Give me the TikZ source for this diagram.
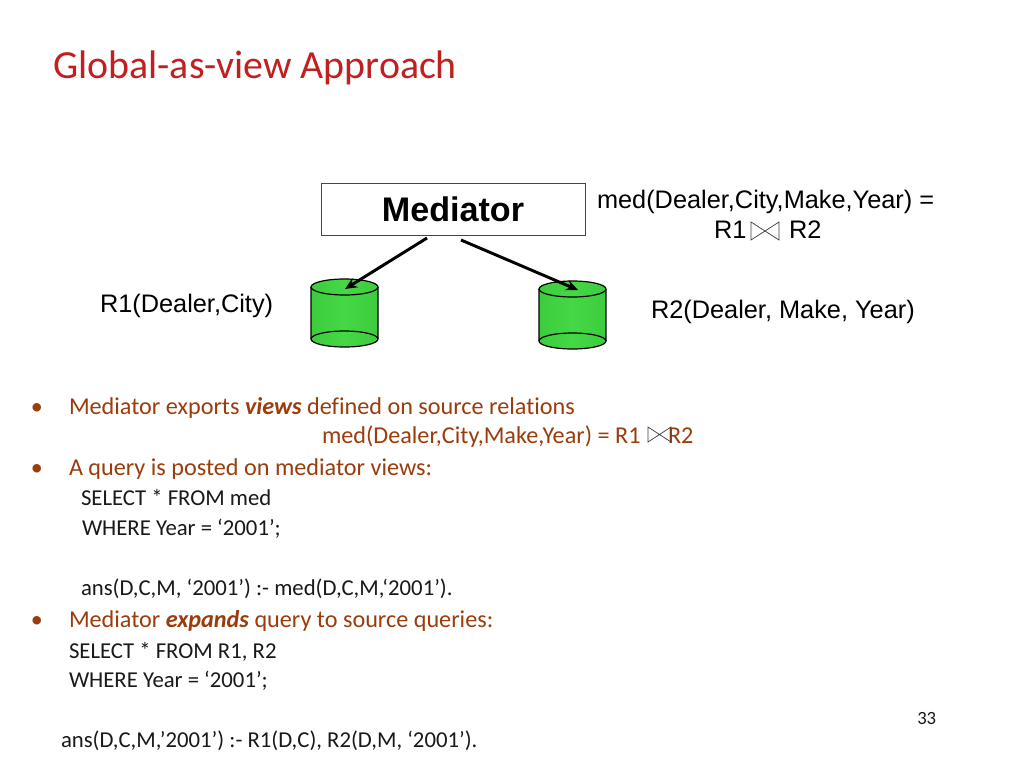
\documentclass[tikz,border=0pt]{standalone}
\usepackage{fontspec}
\setmainfont{Carlito}[Ligatures={NoCommon}]
\newfontfamily\arialf{Liberation Sans}
\usetikzlibrary{arrows.meta,shadings}
\definecolor{titlered}{RGB}{192,32,32}
\definecolor{bodybrown}{RGB}{155,60,13}
\definecolor{cylgreen}{RGB}{60,205,60}
\definecolor{cylmid}{RGB}{70,215,70}
\definecolor{textdark}{RGB}{25,25,25}
\tikzset{
  txt/.style={anchor=base west,inner sep=0pt,outer sep=0pt,font=\fontsize{18}{18}\selectfont},
  bulletmark/.style={txt,text=bodybrown},
  brown/.style={txt,text=bodybrown,font=\fontsize{18.15}{22}\selectfont},
  code/.style={txt,text=textdark,font=\fontsize{17.05}{20}\selectfont},
  ari/.style={anchor=base west,inner sep=0pt,outer sep=0pt,font=\arialf\fontsize{19}{22}\selectfont,text=black},
  arrowline/.style={draw=black,line width=2.2pt,-{Stealth[length=9pt,width=8pt]}},
  cylline/.style={draw=black,line width=0.9pt},
  bowtie/.style={draw=#1,line width=0.55pt,line join=miter},
}
\newcommand{\cyl}[3]{% left x, top centre y, bottom centre y
  \path[left color=cylgreen,right color=cylgreen,middle color=cylmid]
    (#1,#2) arc[start angle=180,end angle=360,x radius=33.5,y radius=8]
    -- (#1+67,#3) arc[start angle=0,end angle=180,x radius=33.5,y radius=8] -- cycle;
  \draw[cylline] (#1,#2) -- (#1,#3) arc[start angle=180,end angle=0,x radius=33.5,y radius=8] -- (#1+67,#2);
  \draw[cylline] (#1,#3) arc[start angle=180,end angle=360,x radius=33.5,y radius=8];
  \draw[cylline] (#1+33.5,#2) ellipse[x radius=33.5,y radius=8];
}
\newcommand{\btie}[5]{% left x, top y, width, height, colour
  \draw[bowtie=#5] (#1,#2) -- (#1+#3,#2+#4) -- (#1+#3,#2) -- (#1,#2+#4) -- cycle;
}
\begin{document}
\begin{tikzpicture}[x=0.75pt,y=-0.75pt]
\useasboundingbox[fill=white] (0,0) rectangle (1024,768);
\node[anchor=base west,inner sep=0pt,text=titlered,font=\fontsize{29.9}{34}\selectfont] (title) at (53,78) {Global-as-view Approach};

\node[draw={rgb,255:red,70;green,70;blue,70},line width=0.7pt,minimum width=198pt,minimum height=39pt,inner sep=0pt,font=\arialf\bfseries\fontsize{25.6}{30}\selectfont] (med) at (453,209) {Mediator};

\cyl{311}{287}{339}
\cyl{539}{289}{341}
\coordinate (a1s) at (427,238);
\coordinate (a1e) at (345,289);
\coordinate (a2s) at (461,240);
\coordinate (a2e) at (578,290);
\draw[arrowline] (a1s) -- (a1e);
\draw[arrowline] (a2s) -- (a2e);

\node[ari] (r1) at (100,312) {R1(Dealer,City)};
\node[ari] (r2) at (651,318) {R2(Dealer, Make, Year)};
\node[ari] (medf) at (597,208) {med(Dealer,City,Make,Year) =};
\node[ari] (r1a) at (714,238) {R1};
\node[ari] (r2a) at (789,238) {R2};
\btie{751}{222}{28}{18}{black!75}

\node[bulletmark] (b1) at (31,414) {•};
\node[brown] (l1) at (69,414) {Mediator exports \textbf{\textit{views}} defined on source relations};
\node[brown] (l2) at (322,443) {med(Dealer,City,Make,Year) = R1};
\node[brown] (l2b) at (668,443) {R2};
\btie{648}{427}{23}{15}{black!75}
\node[bulletmark] (b2) at (31,475) {•};
\node[brown] (l3) at (69,475) {A query is posted on mediator views:};
\node[code] (c1) at (81,505) {SELECT * FROM med};
\node[code] (c2) at (82,535) {WHERE Year = ‘2001’;};
\node[code] (c3) at (81,595) {ans(D,C,M, ‘2001’) :- med(D,C,M,‘2001’).};
\node[bulletmark] (b3) at (31,627) {•};
\node[brown] (l4) at (69,627) {Mediator \textbf{\textit{expands}} query to source queries:};
\node[code] (c4) at (69,658) {SELECT * FROM R1, R2};
\node[code] (c5) at (69,687) {WHERE Year = ‘2001’;};
\node[code] (c6) at (61,747) {ans(D,C,M,’2001’) :- R1(D,C), R2(D,M, ‘2001’).};
\node[anchor=base west,inner sep=0pt,text=textdark,font=\fontsize{14}{16}\selectfont] (pg) at (917,724) {33};
\end{tikzpicture}
\end{document}
